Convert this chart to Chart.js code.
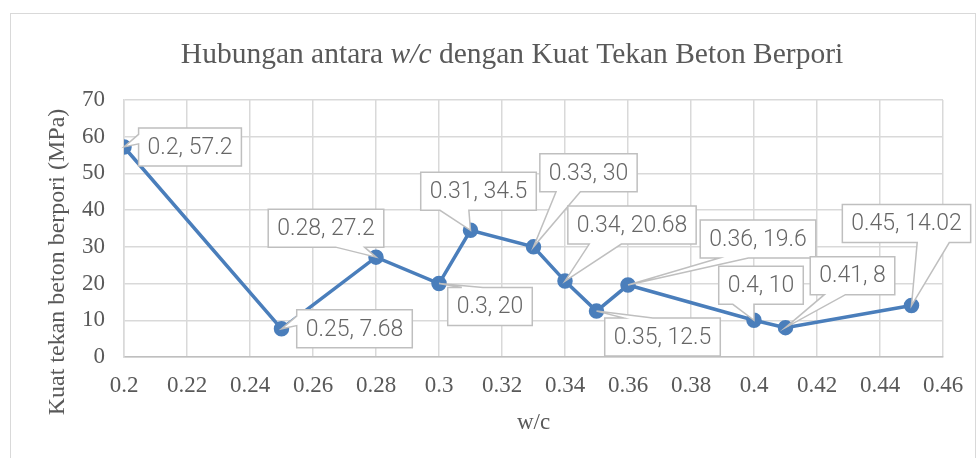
<!DOCTYPE html>
<html>
<head>
<meta charset="utf-8">
<script src="https://cdn.jsdelivr.net/npm/chart.js@4.4.1/dist/chart.umd.min.js"></script>
<style>
  html, body { margin: 0; padding: 0; background: #fff; overflow: hidden; }
  #wrap { position: relative; width: 978px; height: 458px; }
  #frame { position: absolute; left: 10px; top: 13px; width: 966px; height: 500px;
           border: 1px solid #d9d9d9; box-sizing: border-box; }
  canvas { position: absolute; left: 0; top: 0; }
</style>
</head>
<body>
<div id="wrap">
  <div id="frame"></div>
  <canvas id="chartWc" width="978" height="458"></canvas>
</div>
<script>
// données
const wc   = [0.2, 0.25, 0.28, 0.3, 0.31, 0.33, 0.34, 0.35, 0.36, 0.4, 0.41, 0.45];
const kuat = [57.2, 7.68, 27.2, 20, 34.5, 30, 20.68, 12.5, 19.6, 10, 8, 14.02];
const labels = ['0.2, 57.2', '0.25, 7.68', '0.28, 27.2', '0.3, 20', '0.31, 34.5', '0.33, 30',
                '0.34, 20.68', '0.35, 12.5', '0.36, 19.6', '0.4, 10', '0.41, 8', '0.45, 14.02'];
const xTicks = [0.2, 0.22, 0.24, 0.26, 0.28, 0.3, 0.32, 0.34, 0.36, 0.38, 0.4, 0.42, 0.44, 0.46];
const yTicks = [0, 10, 20, 30, 40, 50, 60, 70];

const GRIS_TEXTE = '#595959';
const SERIF = "'Liberation Serif', 'Times New Roman', serif";

// décalage (px) du centre de chaque étiquette par rapport à son point
const labelOffsets = [
  [66, 0], [73, 0], [-50, -29], [51, 23], [8, -39], [55, -74],
  [67, -56], [66, 26], [130, -46], [7, -35], [67, -52], [-5, -82]
];

// ── étiquettes en bulle (style Excel) ─────────────
const calloutPlugin = {
  id: 'callouts',
  afterDatasetsDraw(chart) {
    const ctx = chart.ctx;
    const meta = chart.getDatasetMeta(0);
    const h = 38, pad = 9;
    ctx.save();
    ctx.font = "300 23px Roboto, 'Open Sans', sans-serif";
    meta.data.forEach(function (pt, i) {
      const px = pt.x, py = pt.y;
      const tw = ctx.measureText(labels[i]).width;
      const w = tw + pad * 2;
      const cx = px + labelOffsets[i][0], cy = py + labelOffsets[i][1];
      const bx = cx - w / 2, by = cy - h / 2, r = bx + w, b = by + h;
      const dxPos = px - cx, dyPos = py - cy;
      const side = Math.abs(dyPos) > Math.abs(dxPos * h / w)
        ? (dyPos > 0 ? 'bottom' : 'top')
        : (dxPos > 0 ? 'right' : 'left');
      const x1 = bx + w * (dxPos > 0 ? 7 : 2) / 12, x2 = bx + w * (dxPos > 0 ? 10 : 5) / 12;
      const y1 = by + h * (dyPos > 0 ? 7 : 2) / 12, y2 = by + h * (dyPos > 0 ? 10 : 5) / 12;

      ctx.beginPath();
      ctx.moveTo(bx, by);
      if (side === 'top') { ctx.lineTo(x1, by); ctx.lineTo(px, py); ctx.lineTo(x2, by); }
      ctx.lineTo(r, by);
      if (side === 'right') { ctx.lineTo(r, y1); ctx.lineTo(px, py); ctx.lineTo(r, y2); }
      ctx.lineTo(r, b);
      if (side === 'bottom') { ctx.lineTo(x2, b); ctx.lineTo(px, py); ctx.lineTo(x1, b); }
      ctx.lineTo(bx, b);
      if (side === 'left') { ctx.lineTo(bx, y2); ctx.lineTo(px, py); ctx.lineTo(bx, y1); }
      ctx.closePath();
      ctx.fillStyle = '#ffffff';
      ctx.fill();
      ctx.strokeStyle = '#bfbfbf';
      ctx.lineWidth = 1.5;
      ctx.stroke();

      ctx.fillStyle = '#666666';
      ctx.textAlign = 'center';
      ctx.textBaseline = 'middle';
      ctx.fillText(labels[i], cx, cy + 1);
    });
    ctx.restore();
  }
};

// ── titres et graduations en Times ───────────────
const textePlugin = {
  id: 'textes',
  afterDraw(chart) {
    const ctx = chart.ctx;
    const xs = chart.scales.x, ys = chart.scales.y;
    ctx.save();
    ctx.fillStyle = GRIS_TEXTE;

    // titre avec w/c en italique
    const parts = [
      ['Hubungan antara ', 'normal'],
      ['w/c', 'italic'],
      [' dengan Kuat Tekan Beton Berpori', 'normal']
    ];
    let total = 0;
    parts.forEach(function (p) {
      ctx.font = p[1] + ' 29.5px ' + SERIF;
      p.push(ctx.measureText(p[0]).width);
      total += p[2];
    });
    let x = 512 - total / 2;
    ctx.textBaseline = 'alphabetic';
    ctx.textAlign = 'left';
    parts.forEach(function (p) {
      ctx.font = p[1] + ' 29.5px ' + SERIF;
      ctx.fillText(p[0], x, 63);
      x += p[2];
    });

    // graduations
    ctx.font = '23px ' + SERIF;
    ctx.textBaseline = 'middle';
    ctx.textAlign = 'right';
    yTicks.forEach(function (v) {
      ctx.fillText(String(v), 105, ys.getPixelForValue(v));
    });
    ctx.textAlign = 'center';
    xTicks.forEach(function (v) {
      ctx.fillText(String(v), xs.getPixelForValue(v), 386);
    });

    // titres des axes
    ctx.font = '23px ' + SERIF;
    ctx.fillText('w/c', (xs.left + xs.right) / 2, 423);
    ctx.translate(58, 262);
    ctx.rotate(-Math.PI / 2);
    ctx.font = '24px ' + SERIF;
    ctx.fillText('Kuat tekan beton berpori (MPa)', 0, 0);
    ctx.restore();
  }
};

document.addEventListener('DOMContentLoaded', function () {
  new Chart(document.getElementById('chartWc'), {
    type: 'scatter',
    data: {
      datasets: [{
        data: wc.map(function (v, i) { return { x: v, y: kuat[i] }; }),
        showLine: true,
        borderColor: '#4a7ebb',
        backgroundColor: '#4a7ebb',
        borderWidth: 3.5,
        pointRadius: 6,
        pointHoverRadius: 6
      }]
    },
    options: {
      responsive: false,
      animation: false,
      events: [],
      layout: { padding: { top: 100, right: 35, left: 0, bottom: 0 } },
      plugins: { legend: { display: false }, tooltip: { enabled: false } },
      scales: {
        x: {
          type: 'linear',
          min: 0.2,
          max: 0.46,
          afterBuildTicks: function (s) { s.ticks = xTicks.map(function (v) { return { value: v }; }); },
          afterFit: function (s) { s.height = 101; },
          ticks: { display: false },
          grid: { color: '#d9d9d9', lineWidth: 1.5, drawTicks: false },
          border: { color: '#bfbfbf', width: 1.5 }
        },
        y: {
          min: 0,
          max: 70,
          afterBuildTicks: function (s) { s.ticks = yTicks.map(function (v) { return { value: v }; }); },
          afterFit: function (s) { s.width = 124; },
          ticks: { display: false },
          grid: { color: '#d9d9d9', lineWidth: 1.5, drawTicks: false },
          border: { color: '#d9d9d9', width: 1.5 }
        }
      }
    },
    plugins: [calloutPlugin, textePlugin]
  });
});
</script>
</body>
</html>
